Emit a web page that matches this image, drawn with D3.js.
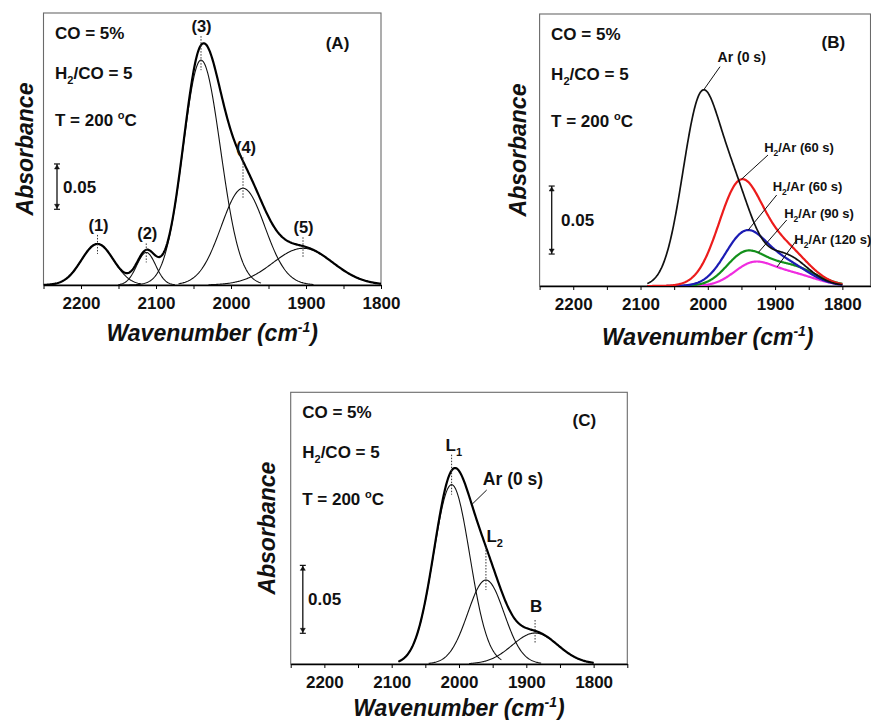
<!DOCTYPE html>
<html><head><meta charset="utf-8">
<script src="https://cdn.jsdelivr.net/npm/d3@7/dist/d3.min.js"></script>
<style>
body{margin:0;background:#fff}
svg{display:block}
text{font-family:'Liberation Sans',Arial,Helvetica,sans-serif;font-weight:bold;fill:#111}
</style></head><body>
<svg id="fig" width="871" height="720"></svg>
<script>
// ================= DATA =================
// x axis (wavenumber, cm-1)
const majorTicks = [2200, 2100, 2000, 1900, 1800];
const tickLabels = ["2200", "2100", "2000", "1900", "1800"];
const minorTicks = [2250, 2150, 2050, 1950, 1850, 1750];
const xTitle = "Wavenumber (cm";
const xTitleSup = "-1";
const yTitle = "Absorbance";
const scaleBarValue = 0.05;
const scaleBarLabel = "0.05";
// experimental conditions (segments: [text, kind])
const conditionLines = [
  [["CO = 5%", ""]],
  [["H", ""], ["2", "sub"], ["/CO = 5", ""]],
  [["T = 200 ", ""], ["o", "sup"], ["C", ""]]
];

// Panel (A): Gaussian bands fitted to the spectrum
const aPanelTag = "(A)";
const aBandLabels = ["(1)", "(2)", "(3)", "(4)", "(5)"];
const aBandCenter  = [2178, 2113, 2040, 1984, 1904];          // cm-1
const aBandHeight  = [0.0453, 0.0359, 0.248, 0.1067, 0.0405]; // absorbance
const aBandSigmaHi = [21.5, 12.6, 24, 29, 40];   // width on high-wavenumber side, cm-1
const aBandSigmaLo = [21.5, 12.6, 26, 29, 40];   // width on low-wavenumber side, cm-1
const aBandFrom    = [2250, 2150, 2150, 2070, 2030];
const aBandTo      = [2120, 2075, 1960, 1890, 1800];
const aEnvelopeRange = [2250, 1800];

// Panel (C): Ar (0 s) spectrum, bands L1, L2, B
const cPanelTag = "(C)";
const cBandLabels = ["L", "L", "B"];
const cBandSubs   = ["1", "2", ""];
const cBandCenter = [2011, 1960, 1887];
const cBandHeight = [0.132, 0.0618, 0.0228];
const cBandSigma  = [27, 27, 34];
const cBandFrom   = [2090, 2045, 1985];
const cBandTo     = [1937, 1878, 1800];
const cEnvelopeRange = [2090, 1800];
const cSpectrumLabel = "Ar (0 s)";

// Panel (B): spectra during H2/Ar exposure
const bPanelTag = "(B)";
const bSeriesNames = ["Ar (0 s)", "H2/Ar (60 s)", "H2/Ar (60 s)", "H2/Ar (90 s)", "H2/Ar (120 s)"];
const bSeriesCenters = [cBandCenter, [1952, 1885], [1945, 1885], [1945, 1880], [1935, 1880]];
const bSeriesHeights = [cBandHeight, [0.074, 0.026], [0.037, 0.016], [0.0222, 0.0149], [0.0143, 0.0092]];
const bSeriesSigmas  = [cBandSigma, [32, 35], [30, 35], [28, 38], [28, 38]];
const bSeriesRange = [2090, 1800];
const bLeaderTargets = [2006, 1950, 1940, 1925, 1897]; // wavenumber where leader touches curve

// ================= LAYOUT / STYLE =================
const FONT = 17;
const bColors = ["#111111", "#ec1c1c", "#1c1cb4", "#12901a", "#f02ce0"];
const panels = {
  A: {left: 43.5, right: 381, frameRight: 381, top: 13, bottom: 285, xDomain: [2250, 1800], yMax: 0.3, titleDy: 48, ylabX: 25, barBase: 0.0835, barLabelX: 63},
  B: {left: 539.6, right: 876, frameRight: 870.5, top: 14, bottom: 286, xDomain: [2250, 1750], yMax: 0.2, titleDy: 50.5, ylabX: 517.3, barBase: 0.0235, barLabelX: 561},
  C: {left: 290.7, right: 627.3, frameRight: 627.3, top: 392.3, bottom: 664, xDomain: [2250, 1750], yMax: 0.2, titleDy: 44.3, ylabX: 266.7, barBase: 0.0226, barLabelX: 308}
};
const condDy = [20, 60, 107];
const barWn = 2232;

const svg = d3.select("#fig");

function gauss(w, c, h, sHi, sLo) {
  const s = (sLo === undefined || w >= c) ? sHi : sLo;
  return h * Math.exp(-((w - c) * (w - c)) / (2 * s * s));
}
function sumAt(w, cs, hs, ss, sl) {
  let v = 0;
  for (let i = 0; i < cs.length; i++) v += gauss(w, cs[i], hs[i], ss[i], sl ? sl[i] : undefined);
  return v;
}
function sample(from, to, cs, hs, ss, sl) {
  const pts = [];
  for (let w = from; w >= to; w -= 1) pts.push([w, sumAt(w, cs, hs, ss, sl)]);
  return pts;
}

function richText(g, x, yBase, segs, size, anchor) {
  const t = g.append("text").attr("x", x).attr("y", yBase).attr("font-size", size).attr("text-anchor", anchor || "start");
  let shift = 0;
  segs.forEach(([s, k]) => {
    const sp = t.append("tspan").text(s);
    let target = 0;
    if (k === "sub") { sp.attr("font-size", size * 0.65); target = size * 0.3; }
    else if (k === "sup") { sp.attr("font-size", size * 0.65); target = -size * 0.42; }
    sp.attr("dy", target - shift);
    shift = target;
  });
  return t;
}

function makePanel(id, tag) {
  const cfg = panels[id];
  const x = d3.scaleLinear().domain(cfg.xDomain).range([cfg.left, cfg.right]);
  const y = d3.scaleLinear().domain([0, cfg.yMax]).range([cfg.bottom, cfg.top]);
  const g = svg.append("g");
  const clipId = "clip" + id;
  svg.append("clipPath").attr("id", clipId).append("rect")
    .attr("x", cfg.left).attr("y", cfg.top - 2)
    .attr("width", cfg.frameRight - cfg.left).attr("height", cfg.bottom - cfg.top + 2);
  g.append("rect").attr("x", cfg.left).attr("y", cfg.top)
    .attr("width", cfg.frameRight - cfg.left).attr("height", cfg.bottom - cfg.top)
    .attr("fill", "none").attr("stroke", "#6a6a6a").attr("stroke-width", 1.1);
  const dom = x.domain();
  const allTicks = majorTicks.concat(minorTicks).filter(t => t <= dom[0] && t >= dom[1]);
  const ax = d3.axisBottom(x).tickValues(allTicks)
    .tickFormat(d => { const i = majorTicks.indexOf(d); return i >= 0 ? tickLabels[i] : ""; })
    .tickSize(4).tickSizeOuter(0).tickPadding(8);
  const axG = g.append("g").attr("transform", `translate(0,${cfg.bottom})`).call(ax)
    .attr("font-family", null).attr("font-size", FONT);
  axG.select(".domain").attr("stroke", "#000").attr("stroke-width", 1.7);
  axG.selectAll(".tick line").attr("stroke", "#000").attr("stroke-width", 1);
  axG.selectAll(".tick text").attr("font-size", FONT).attr("font-weight", "bold").attr("fill", "#111");
  // x title
  const xc = (cfg.left + cfg.right) / 2;
  g.append("text").attr("x", xc).attr("y", cfg.bottom + cfg.titleDy + 8)
    .attr("text-anchor", "middle").attr("font-size", 23).attr("font-style", "italic")
    .call(t => { t.append("tspan").text(xTitle);
                 t.append("tspan").text(xTitleSup).attr("font-size", 14).attr("dy", -9);
                 t.append("tspan").text(")").attr("dy", 9); });
  // y title
  const yc = (cfg.top + cfg.bottom) / 2;
  g.append("text").attr("transform", `translate(${cfg.ylabX + 8.3},${yc}) rotate(-90)`)
    .attr("text-anchor", "middle").attr("font-size", 23).attr("font-style", "italic").text(yTitle);
  // conditions
  conditionLines.forEach((segs, i) => richText(g, cfg.left + 11.5, cfg.top + condDy[i] + 6, segs, FONT));
  // panel tag
  const tagX = {A: 337.5, B: 833.3, C: 584.3}[id];
  const tagY = {A: 42.7, B: 41.7, C: 420}[id];
  g.append("text").attr("x", tagX).attr("y", tagY + 6).attr("text-anchor", "middle").attr("font-size", FONT).text(tag);
  // scale bar
  const bx = x(barWn), y0 = y(cfg.barBase), y1 = y(cfg.barBase + scaleBarValue);
  const sb = g.append("g").attr("stroke", "#111");
  sb.append("line").attr("x1", bx).attr("x2", bx).attr("y1", y0).attr("y2", y1).attr("stroke-width", 1.3);
  [[y1, 1], [y0, -1]].forEach(([yy, dir]) => {
    sb.append("line").attr("x1", bx - 3).attr("x2", bx + 3).attr("y1", yy).attr("y2", yy).attr("stroke-width", 1.2);
    sb.append("path").attr("d", `M${bx - 2.5},${yy + dir * 5}L${bx + 2.5},${yy + dir * 5}L${bx},${yy + dir * 1}Z`).attr("fill", "#111").attr("stroke-width", 0.5);
  });
  g.append("text").attr("x", cfg.barLabelX).attr("y", (y0 + y1) / 2 + 6).attr("font-size", FONT).text(scaleBarLabel);
  const plot = g.append("g").attr("clip-path", `url(#${clipId})`);
  return {x, y, g, plot};
}

// ================= PANEL A =================
(function () {
  const {x, y, g, plot} = makePanel("A", aPanelTag);
  const line = d3.line().x(d => x(d[0])).y(d => y(d[1]));
  aBandCenter.forEach((c, i) => {
    const pts = sample(aBandFrom[i], aBandTo[i], [c], [aBandHeight[i]], [aBandSigmaHi[i]], [aBandSigmaLo[i]]);
    plot.append("path").attr("d", line(pts)).attr("fill", "none").attr("stroke", "#111").attr("stroke-width", 1.1);
  });
  const env = sample(aEnvelopeRange[0], aEnvelopeRange[1], aBandCenter, aBandHeight, aBandSigmaHi, aBandSigmaLo);
  plot.append("path").attr("d", line(env)).attr("fill", "none").attr("stroke", "#000").attr("stroke-width", 2.2);
  const labDy = [-19, -19, -34, -41, -21];
  const labDx = [1, 1, 0.5, 3, 0.5];
  aBandCenter.forEach((c, i) => {
    const px = x(c), py = y(aBandHeight[i]);
    const ly = py + labDy[i];
    g.append("line").attr("x1", px).attr("x2", px).attr("y1", ly + 10).attr("y2", py + 10)
      .attr("stroke", "#333").attr("stroke-width", 1).attr("stroke-dasharray", "1.5,1.5");
    g.append("text").attr("x", px + labDx[i]).attr("y", ly + 6).attr("text-anchor", "middle").attr("font-size", 16.5).text(aBandLabels[i]);
  });
})();

// ================= PANEL B =================
(function () {
  const {x, y, g, plot} = makePanel("B", bPanelTag);
  const line = d3.line().x(d => x(d[0])).y(d => y(d[1]));
  const order = [4, 3, 2, 1, 0];
  order.forEach(i => {
    const pts = sample(bSeriesRange[0], bSeriesRange[1], bSeriesCenters[i], bSeriesHeights[i], bSeriesSigmas[i]);
    plot.append("path").attr("d", line(pts)).attr("fill", "none").attr("stroke", bColors[i])
      .attr("stroke-width", i === 0 ? 1.7 : 2.2);
  });
  const labPos = [[741.7, 57], [799, 147], [807.5, 186.7], [819, 213.3], [832.8, 239.3]];
  const leadStart = [[720, 66.7], [768, 155], [776.7, 195], [786.7, 220], [796.7, 240]];
  bSeriesNames.forEach((nm, i) => {
    const size = i === 0 ? 14 : 13;
    const segs = nm.startsWith("H2") ? [["H", ""], ["2", "sub"], [nm.slice(2), ""]] : [[nm, ""]];
    richText(g, labPos[i][0], labPos[i][1] + size * 0.36, segs, size, "middle");
    const w = bLeaderTargets[i];
    const ex = x(w), ey = y(sumAt(w, bSeriesCenters[i], bSeriesHeights[i], bSeriesSigmas[i]));
    g.append("line").attr("x1", leadStart[i][0]).attr("y1", leadStart[i][1]).attr("x2", ex).attr("y2", ey)
      .attr("stroke", "#111").attr("stroke-width", 1);
  });
})();

// ================= PANEL C =================
(function () {
  const {x, y, g, plot} = makePanel("C", cPanelTag);
  const line = d3.line().x(d => x(d[0])).y(d => y(d[1]));
  cBandCenter.forEach((c, i) => {
    const pts = sample(cBandFrom[i], cBandTo[i], [c], [cBandHeight[i]], [cBandSigma[i]]);
    plot.append("path").attr("d", line(pts)).attr("fill", "none").attr("stroke", "#111").attr("stroke-width", 1.1);
  });
  const env = sample(cEnvelopeRange[0], cEnvelopeRange[1], cBandCenter, cBandHeight, cBandSigma);
  plot.append("path").attr("d", line(env)).attr("fill", "none").attr("stroke", "#000").attr("stroke-width", 2.2);
  const labDx = [-6, 0.5, 1], labDy = [-40, -44, -27], dotTop = [-30, -33, -13], anchors = ["start", "start", "middle"];
  cBandCenter.forEach((c, i) => {
    const px = x(c), py = y(cBandHeight[i]);
    g.append("line").attr("x1", px).attr("x2", px).attr("y1", py + dotTop[i]).attr("y2", py + 10)
      .attr("stroke", "#333").attr("stroke-width", 1).attr("stroke-dasharray", "1.5,1.5");
    const segs = cBandSubs[i] ? [[cBandLabels[i], ""], [cBandSubs[i], "sub"]] : [[cBandLabels[i], ""]];
    richText(g, px + labDx[i], py + labDy[i] + 6, segs, FONT, anchors[i]);
  });
  // spectrum label with leader
  g.append("text").attr("x", 513).attr("y", 478.3 + 6.3).attr("text-anchor", "middle").attr("font-size", 17.5).text(cSpectrumLabel);
  const lw = 1981;
  g.append("line").attr("x1", 486.7).attr("y1", 490).attr("x2", x(lw))
    .attr("y2", y(sumAt(lw, cBandCenter, cBandHeight, cBandSigma)))
    .attr("stroke", "#111").attr("stroke-width", 1);
})();
</script>
</body></html>
